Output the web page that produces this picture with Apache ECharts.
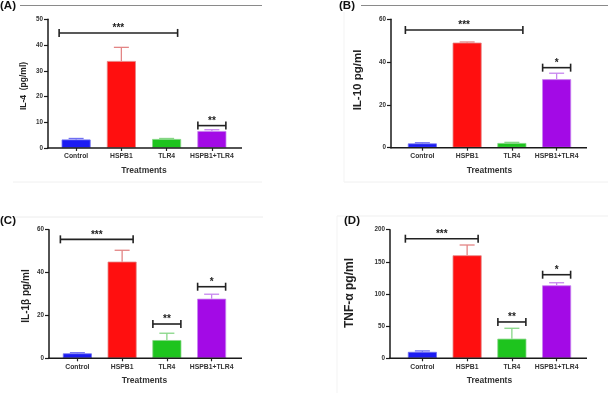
<!DOCTYPE html>
<html><head><meta charset="utf-8">
<script src="https://cdn.jsdelivr.net/npm/echarts@6/dist/echarts.min.js"></script>
<style>html,body{margin:0;padding:0;background:#fff}#c{width:608px;height:393px}</style>
</head><body><div id="c"></div>
<script>
const categories = ['Control', 'HSPB1', 'TLR4', 'HSPB1+TLR4'];

const il4Mean = [3.3, 33.8, 3.5, 6.6];
const il4Err = [0.4, 5.3, 0.2, 0.5];
const il4Sig = [[0, 2, 44.7, '***'], [3, 3, 8.7, '**']];

const il10Mean = [2.0, 49.1, 2.2, 32.0];
const il10Err = [0.3, 0.3, 0.3, 2.8];
const il10Sig = [[0, 2, 55, '***'], [3, 3, 37.4, '*']];

const il1bMean = [2.3, 45.1, 8.5, 27.8];
const il1bErr = [0.3, 5.3, 3.2, 2.1];
const il1bSig = [[0, 1, 55.5, '***'], [2, 2, 16, '**'], [3, 3, 33.4, '*']];

const tnfMean = [10, 160.2, 30.5, 113.5];
const tnfErr = [1.5, 16, 16.2, 4];
const tnfSig = [[0, 1, 186, '***'], [2, 2, 56.5, '**'], [3, 3, 130, '*']];

const yMax = [50, 60, 60, 200];
const yInterval = [10, 20, 20, 50];
const yNames = ['IL-4  (pg/ml)', 'IL-10 pg/ml', 'IL-1\u03b2 pg/ml', 'TNF-\u03b1 pg/ml'];
const panelLabels = ['(A)', '(B)', '(C)', '(D)'];
const xName = 'Treatments';

const barColors = ['#1c1cf2', '#ff0f0f', '#1ec41e', '#a30ae6'];
const errColors = ['#6f6ff2', '#e38585', '#86d686', '#c785ef'];

const means = [il4Mean, il10Mean, il1bMean, tnfMean];
const errs = [il4Err, il10Err, il1bErr, tnfErr];
const sigs = [il4Sig, il10Sig, il1bSig, tnfSig];

// layout
const grids = [
  {left: 53.5, top: 19.3, width: 181, height: 128.7},
  {left: 400, top: 19.3, width: 179, height: 128.4},
  {left: 55, top: 229.7, width: 179, height: 128.6},
  {left: 400, top: 229.7, width: 179, height: 128.6}
];
const yOffsets = [5.5, 9, 6, 10];
const xExt = [7.5, 8, 8, 8];
const nameFont = [8.5, 11.5, 10, 12];
const namePos = [[24, 86], [358, 80], [26, 296], [350, 293]];

const FONT = 'Liberation Sans';
const chart = echarts.init(document.getElementById('c'), null, {renderer: 'canvas'});

const xAxes = [], yAxes = [], series = [];
for (let i = 0; i < 4; i++) {
  const panelSig = sigs[i];
  xAxes.push({
    gridIndex: i, type: 'category', data: categories,
    axisLine: {show: false},
    axisTick: {show: true, alignWithLabel: true, length: 3, lineStyle: {color: '#222', width: 1.2}},
    axisLabel: {fontFamily: FONT, fontWeight: 'bold', fontSize: 6.8, color: '#333', margin: 5, interval: 0},
    name: xName, nameLocation: 'middle', nameGap: 18,
    nameTextStyle: {fontFamily: FONT, fontWeight: 'bold', fontSize: 8.5, color: '#333'}
  });
  yAxes.push({
    gridIndex: i, type: 'value', min: 0, max: yMax[i], interval: yInterval[i],
    offset: yOffsets[i],
    splitLine: {show: false},
    axisLine: {show: true, lineStyle: {color: '#1a1a1a', width: 1.5}},
    axisTick: {show: true, length: 4, lineStyle: {color: '#1a1a1a', width: 1.2}},
    axisLabel: {fontFamily: FONT, fontWeight: 'bold', fontSize: 6.3, color: '#333', margin: 5}
  });
  series.push({
    type: 'bar', xAxisIndex: i, yAxisIndex: i, barWidth: 29, z: 2,
    data: means[i].map((v, j) => ({value: v, itemStyle: {color: barColors[j], borderColor: errColors[j], borderWidth: 0.8}}))
  });
  series.push({
    type: 'custom', xAxisIndex: i, yAxisIndex: i, z: 3,
    data: means[i].map((v, j) => [j, v, errs[i][j]]),
    renderItem: function (params, api) {
      const j = params.dataIndex;
      const b = api.coord([api.value(0), api.value(1)]);
      const t = api.coord([api.value(0), api.value(1) + api.value(2)]);
      const st = {stroke: errColors[j], lineWidth: 1.3};
      return {type: 'group', children: [
        {type: 'line', shape: {x1: b[0], y1: b[1], x2: b[0], y2: t[1]}, style: st},
        {type: 'line', shape: {x1: b[0] - 7.5, y1: t[1], x2: b[0] + 7.5, y2: t[1]}, style: st}
      ]};
    }
  });
  series.push({
    type: 'custom', xAxisIndex: i, yAxisIndex: i, z: 4,
    data: panelSig,
    renderItem: function (params, api) {
      const s = api.value(0), e = api.value(1);
      const p1 = api.coord([s, api.value(2)]);
      const p2 = api.coord([e, api.value(2)]);
      const same = s === e;
      const x1 = p1[0] - (same ? 14 : 17);
      const x2 = p2[0] + (same ? 14 : 11);
      const y = p1[1];
      const st = {stroke: '#222', lineWidth: 1.6};
      return {type: 'group', children: [
        {type: 'line', shape: {x1: x1, y1: y, x2: x2, y2: y}, style: st},
        {type: 'line', shape: {x1: x1, y1: y - 4, x2: x1, y2: y + 4}, style: st},
        {type: 'line', shape: {x1: x2, y1: y - 4, x2: x2, y2: y + 4}, style: st},
        {type: 'text', x: (x1 + x2) / 2, y: y - 4.5, style: {
          text: panelSig[params.dataIndex][3],
          fontFamily: FONT, fontWeight: 'bold', fontSize: 10, fill: '#222', align: 'center', verticalAlign: 'middle'}}
      ]};
    }
  });
  const off = yOffsets[i], ext = xExt[i];
  series.push({
    type: 'custom', xAxisIndex: i, yAxisIndex: i, z: 5,
    data: [[0, 0]],
    renderItem: function (params, api) {
      const cs = params.coordSys;
      const y = cs.y + cs.height;
      return {type: 'line', shape: {x1: cs.x - off - 0.75, y1: y, x2: cs.x + cs.width + ext, y2: y},
        style: {stroke: '#1a1a1a', lineWidth: 1.5}};
    }
  });
}

const graphics = [
  {type: 'line', shape: {x1: 20, y1: 5.5, x2: 262, y2: 5.5}, style: {stroke: '#8a8a8a', lineWidth: 1}},
  {type: 'line', shape: {x1: 361, y1: 5.5, x2: 608, y2: 5.5}, style: {stroke: '#8a8a8a', lineWidth: 1}},
  {type: 'line', shape: {x1: 13, y1: 182, x2: 262, y2: 182}, style: {stroke: '#f0f0f0', lineWidth: 1}},
  {type: 'line', shape: {x1: 13, y1: 217, x2: 263, y2: 217}, style: {stroke: '#ececec', lineWidth: 1}},
  {type: 'line', shape: {x1: 337, y1: 216, x2: 608, y2: 216}, style: {stroke: '#efefef', lineWidth: 1}},
  {type: 'line', shape: {x1: 337, y1: 216, x2: 337, y2: 393}, style: {stroke: '#f3f3f3', lineWidth: 1}},
  {type: 'line', shape: {x1: 344, y1: 182, x2: 608, y2: 182}, style: {stroke: '#f0f0f0', lineWidth: 1}},
  {type: 'line', shape: {x1: 344, y1: 12, x2: 344, y2: 182}, style: {stroke: '#f3f3f3', lineWidth: 1}}
];
const labelPos = [[0, 5.5], [339, 5.5], [0, 221], [344, 221]];
for (let i = 0; i < 4; i++) {
  graphics.push({type: 'text', x: labelPos[i][0], y: labelPos[i][1], style: {
    text: panelLabels[i], fontFamily: FONT, fontWeight: 'bold', fontSize: 11.5, fill: '#111', verticalAlign: 'middle'}});
  graphics.push({type: 'text', x: namePos[i][0], y: namePos[i][1], rotation: Math.PI / 2, style: {
    text: yNames[i], fontFamily: FONT, fontWeight: 'bold', fontSize: nameFont[i], fill: '#222', align: 'center', verticalAlign: 'middle'}});
}

chart.setOption({
  animation: false,
  backgroundColor: '#fff',
  grid: grids.map(g => Object.assign({containLabel: false}, g)),
  xAxis: xAxes, yAxis: yAxes, series: series, graphic: graphics
});
</script></body></html>
